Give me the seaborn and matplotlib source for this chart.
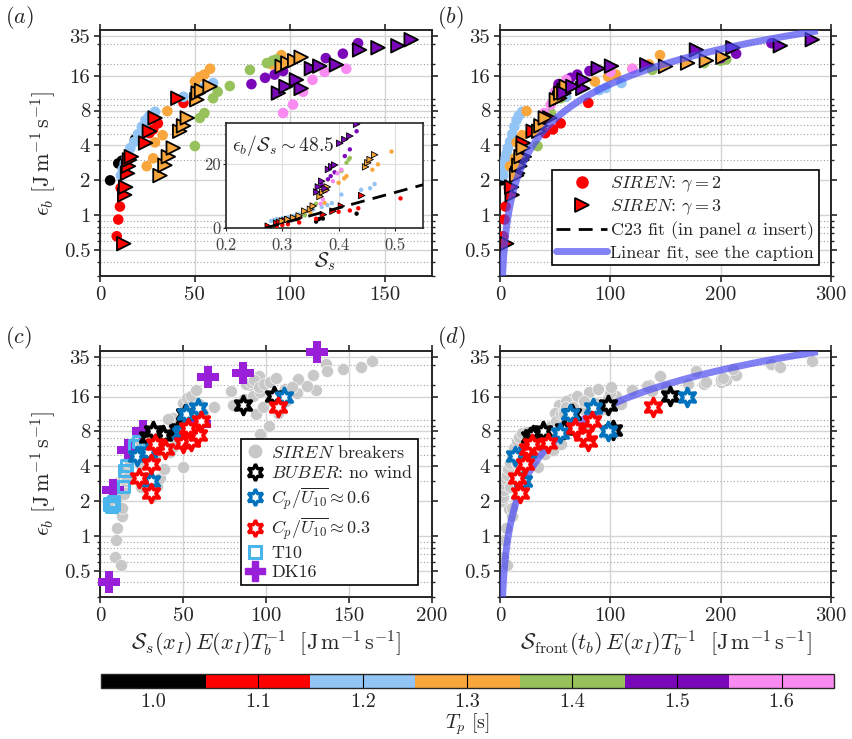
import numpy as np
import pandas as pd
import matplotlib
matplotlib.use('Agg')
import matplotlib.pyplot as plt
import matplotlib.ticker as mticker
from matplotlib.lines import Line2D
from matplotlib.colors import ListedColormap, BoundaryNorm
import seaborn as sns

# Peak periods and their colours
tp_levels = ['1.0', '1.1', '1.2', '1.3', '1.4', '1.5', '1.6']
tp_colors = ['#000000', '#ff0000', '#92c5f6', '#f9a63c', '#97c25b', '#7a08b8', '#f98af1']

# SIREN breakers: eps_b, x of panel a, x of panel b, S_s (inset)
# gamma = 2 (circles)
c10_eps = [2.0, 2.8, 2.95, 4.5]
c10_xa = [5.3, 9.6, 11.4, 18.4]
c10_xb = [1.5, 7.5, 9, 14]
c10_ss = [0.36, 0.365, 0.372, 0.432]

c11_eps = [0.66, 0.92, 1.19, 1.72, 2.9, 5.1, 5.5, 6.2, 9.3]
c11_xa = [8.8, 9.6, 10.5, 10.9, 14, 26, 28, 30.5, 44]
c11_xb = [3, 4, 5, 8, 15, 41, 48, 55, 80]
c11_ss = [0.29, 0.30, 0.31, 0.33, 0.36, 0.40, 0.42, 0.435, 0.51]

c12_eps = [2.2, 2.5, 2.8, 3.1, 3.4, 3.8, 4.3, 5.0, 5.8, 6.6, 7.2, 7.8, 10.5, 12, 12.5, 13.8]
c12_xa = [11, 12, 13, 14, 15, 16, 18, 20, 22, 24, 26, 29, 44, 50, 53, 59.6]
c12_xb = [2.8, 3.5, 4, 5, 6, 7, 9, 11, 13, 15, 17, 20, 60, 90, 96, 110]
c12_ss = [0.28, 0.285, 0.29, 0.30, 0.31, 0.32, 0.33, 0.34, 0.355, 0.37, 0.38, 0.388, 0.405, 0.44, 0.456, 0.464]

c13_eps = [2.65, 3.1, 4.25, 4.9, 7.9, 14.2, 15.6, 16.3, 18.3, 20, 24]
c13_xa = [24.6, 28, 29, 33, 35.5, 50, 52.6, 55, 58, 90.4, 95.6]
c13_xb = [9, 13.5, 15, 20, 24, 86, 98, 105, 120, 135, 145]
c13_ss = [0.31, 0.325, 0.34, 0.35, 0.375, 0.40, 0.41, 0.414, 0.46, 0.47, 0.494]

c14_eps = [3.95, 6.9, 7.6, 10.2, 11.6, 13.0, 17.9, 20.5, 21.5, 22]
c14_xa = [50, 52.6, 55, 59.6, 62, 68.4, 79, 88, 91, 93]
c14_xb = [34, 43, 46, 55, 58, 62, 138, 185, 200, 205]
c14_ss = [0.34, 0.355, 0.36, 0.368, 0.372, 0.376, 0.405, 0.414, 0.418, 0.42]

c15_eps = [13.5, 15.3, 16.3, 17.5, 22.6, 24.7, 30.4]
c15_xa = [79.8, 87, 92, 96.5, 119, 128, 136]
c15_xb = [53, 64, 70, 81, 200, 214, 246]
c15_ss = [0.37, 0.381, 0.386, 0.393, 0.411, 0.42, 0.432]

c16_eps = [7.6, 9.0, 11.6, 14.7, 17.2, 18.3]
c16_xa = [96.5, 101.7, 107, 112, 118.4, 129.8]
c16_xb = [40, 46, 50, 60, 100, 120]
c16_ss = [0.368, 0.372, 0.378, 0.39, 0.398, 0.405]

# gamma = 3 (triangles)
t11_eps = [0.57, 1.5, 1.75, 2.3, 2.65, 3.0, 3.2, 4.2, 5.3, 6.9, 10.2]
t11_xa = [12.5, 13, 13.5, 14.5, 15, 15.5, 16.5, 24, 26, 29, 41]
t11_xb = [6, 11, 10.5, 16, 18, 20, 22, 21, 30, 45, 54]
t11_ss = [0.275, 0.29, 0.295, 0.305, 0.31, 0.32, 0.33, 0.373, 0.39, 0.405, 0.441]

t13_eps = [2.2, 2.7, 3.2, 3.8, 5.3, 5.9, 6.9, 9.9, 11.3, 11.9, 12.9, 19.2, 20.5, 21.5, 23]
t13_xa = [31.6, 34.2, 36, 38.6, 42, 44, 46, 51, 51.7, 53.5, 58, 96, 99, 102.6, 106]
t13_xb = [15, 17, 19, 21, 35, 37, 41, 51, 55, 58, 60, 150, 170, 187, 202]
t13_ss = [0.30, 0.31, 0.32, 0.33, 0.34, 0.35, 0.355, 0.367, 0.372, 0.378, 0.38, 0.448, 0.452, 0.456, 0.464]

t15_eps = [11.3, 12.4, 12.9, 14.7, 18.4, 19.3, 19.8, 26.6, 27.8, 28.9, 32.6]
t15_xa = [94, 106, 98, 103.5, 111.4, 115.8, 124.6, 136.8, 146.5, 157, 164]
t15_xb = [58, 75, 66, 76, 89, 101, 133, 178, 211, 254, 283]
t15_ss = [0.361, 0.376, 0.364, 0.37, 0.382, 0.388, 0.393, 0.402, 0.411, 0.42, 0.432]

# BUBER stars: eps_b, x of panel c, x of panel d
nowind_eps = [7.1, 7.4, 8.1, 8.2, 8.4, 11.2, 13.6, 16.3]
nowind_xc = [29, 38, 32, 47, 48, 51, 86, 105]
nowind_xd = [27, 30, 39, 102, 58, 65, 98, 154]

w06_eps = [3.0, 4.9, 5.3, 7.7, 8.1, 11.2, 12.8, 16]
w06_xc = [31, 22, 29, 49, 50, 52, 59, 111]
w06_xd = [21, 14, 24, 54, 98, 63, 84, 169]

w03_eps = [2.35, 3.2, 4.2, 5.6, 6.2, 6.3, 6.6, 7.5, 8.5, 9.9, 13]
w03_xc = [31, 23.6, 31, 39, 33, 50, 55, 59, 53, 61, 107]
w03_xd = [18, 15, 22.6, 25, 29, 43.7, 80, 75, 68, 83, 138.5]

# other data sets
t10_x = [6, 7, 8, 8.3, 14, 15, 16, 21, 23]
t10_eps = [1.9, 1.8, 1.9, 2.0, 2.7, 3.7, 4.1, 6.0, 6.6]
dk16_x = [5.5, 8, 17, 26, 60, 65, 86, 130.5]
dk16_eps = [0.4, 2.5, 5.5, 8.1, 9.3, 23.5, 25.5, 39]

# fits
c23_slope, c23_x0 = 48.5, 0.27
lin_slope = 0.135

yticks = [0.5, 1, 2, 4, 8, 16, 35]
yminor = [0.3, 0.4, 0.6, 0.7, 0.8, 0.9, 3, 5, 6, 7, 9, 10, 20, 30]


def group(tp, gamma, eps, xa, xb, ss):
    return pd.DataFrame({'tp': tp, 'gamma': gamma, 'eps': eps, 'xa': xa, 'xb': xb, 'ss': ss})


circ = pd.concat([
    group('1.0', 2, c10_eps, c10_xa, c10_xb, c10_ss),
    group('1.1', 2, c11_eps, c11_xa, c11_xb, c11_ss),
    group('1.2', 2, c12_eps, c12_xa, c12_xb, c12_ss),
    group('1.3', 2, c13_eps, c13_xa, c13_xb, c13_ss),
    group('1.4', 2, c14_eps, c14_xa, c14_xb, c14_ss),
    group('1.5', 2, c15_eps, c15_xa, c15_xb, c15_ss),
    group('1.6', 2, c16_eps, c16_xa, c16_xb, c16_ss),
])
tri = pd.concat([
    group('1.1', 3, t11_eps, t11_xa, t11_xb, t11_ss),
    group('1.3', 3, t13_eps, t13_xa, t13_xb, t13_ss),
    group('1.5', 3, t15_eps, t15_xa, t15_xb, t15_ss),
])
siren = pd.concat([circ, tri])
pal = dict(zip(tp_levels, tp_colors))

sns.set_style('ticks')
plt.rcParams['font.family'] = 'serif'
plt.rcParams['font.serif'] = ['cmr10', 'DejaVu Serif']
plt.rcParams['mathtext.fontset'] = 'cm'
plt.rcParams['axes.unicode_minus'] = False
plt.rcParams['axes.formatter.use_mathtext'] = True

fig = plt.figure(figsize=(8.52, 7.39), dpi=100)
axA = fig.add_axes([0.1174, 0.6265, 0.3897, 0.3329])
axB = fig.add_axes([0.5869, 0.6265, 0.3885, 0.3329])
axC = fig.add_axes([0.1174, 0.1922, 0.3897, 0.3329])
axD = fig.add_axes([0.5869, 0.1922, 0.3885, 0.3329])


def style(ax, xmax, xticks):
    ax.set_yscale('log')
    ax.set_ylim(0.3, 39.5)
    ax.set_xlim(0, xmax)
    ax.yaxis.set_major_locator(mticker.FixedLocator(yticks))
    ax.yaxis.set_major_formatter(mticker.FixedFormatter([f'{v:g}' for v in yticks]))
    ax.yaxis.set_minor_locator(mticker.FixedLocator(yminor))
    ax.yaxis.set_minor_formatter(mticker.NullFormatter())
    ax.set_xticks(xticks)
    ax.set_xticklabels([f'{v:g}' for v in xticks])
    ax.grid(which='major', color='#d4d4d4', lw=1.0, ls='-')
    ax.grid(which='minor', axis='y', color='#a0a0a0', lw=0.8, ls=(0, (1, 2)))
    ax.set_axisbelow(True)
    ax.tick_params(which='major', direction='out', top=True, right=True,
                   labelsize=15, width=1.2, length=4, pad=3)
    ax.tick_params(which='minor', direction='out', right=True, width=1.0, length=2.5)
    for s in ax.spines.values():
        s.set_linewidth(1.4)
    ax.set_xlabel('')
    ax.set_ylabel('')


ylab = r'$\epsilon_b\ [\mathrm{J\,m^{-1}\,s^{-1}}]$'

# ---- panel a
sns.scatterplot(data=circ, x='xa', y='eps', hue='tp', palette=pal, s=58,
                linewidth=0, legend=False, ax=axA, zorder=3)
sns.scatterplot(data=tri, x='xa', y='eps', hue='tp', palette=pal, marker='>', s=95,
                edgecolor='k', linewidth=1.3, legend=False, ax=axA, zorder=4)
style(axA, 175, [0, 50, 100, 150])
axA.set_ylabel(ylab, fontsize=16, labelpad=4)

# inset
axI = fig.add_axes([0.2653, 0.6915, 0.2312, 0.1421])
sns.scatterplot(data=circ, x='ss', y='eps', hue='tp', palette=pal, s=10,
                linewidth=0, legend=False, ax=axI, zorder=3)
sns.scatterplot(data=tri, x='ss', y='eps', hue='tp', palette=pal, marker='>', s=22,
                edgecolor='k', linewidth=0.6, legend=False, ax=axI, zorder=4)
xs = np.array([c23_x0, 0.55])
axI.plot(xs, c23_slope * (xs - c23_x0), color='k', ls=(0, (5, 3)), lw=2, zorder=5)
axI.set_xlim(0.2, 0.55)
axI.set_ylim(0, 33)
axI.set_xticks([0.2, 0.3, 0.4, 0.5])
axI.set_xticklabels(['0.2', '0.3', '0.4', '0.5'])
axI.set_yticks([0, 20])
axI.set_yticklabels(['0', '20'])
axI.grid(color='#dddddd', lw=0.8)
axI.tick_params(axis='x', labelsize=12, labelcolor='#444444', length=2, pad=5)
axI.tick_params(axis='y', labelsize=12, labelcolor='#444444', length=2, pad=2)
for s in axI.spines.values():
    s.set_linewidth(1.2)
axI.set_ylabel('')
axI.set_xlabel(r'$\mathcal{S}_s$', fontsize=15, labelpad=-2)
axI.text(0.03, 0.9, r'$\epsilon_b/\mathcal{S}_s\sim 48.5$', transform=axI.transAxes,
         fontsize=14, va='top', ha='left')

# ---- panel b
sns.scatterplot(data=circ, x='xb', y='eps', hue='tp', palette=pal, s=58,
                linewidth=0, legend=False, ax=axB, zorder=3)
sns.scatterplot(data=tri, x='xb', y='eps', hue='tp', palette=pal, marker='>', s=95,
                edgecolor='k', linewidth=1.3, legend=False, ax=axB, zorder=4)
xl = np.linspace(2.2, 288, 300)
axB.plot(xl, lin_slope * xl, color=(0.3, 0.3, 0.95), alpha=0.7, lw=5, zorder=5,
         solid_capstyle='butt')
style(axB, 300, [0, 100, 200, 300])
hB = [Line2D([], [], ls='', marker='o', color='#ff0000', markersize=8),
      Line2D([], [], ls='', marker='>', markerfacecolor='#ff0000', markeredgecolor='k',
             markeredgewidth=1.3, markersize=10),
      Line2D([], [], color='k', ls=(0, (5, 3)), lw=2),
      Line2D([], [], color=(0.3, 0.3, 0.95), alpha=0.7, lw=5)]
lB = [r'$\it{SIREN}$: $\gamma=2$', r'$\it{SIREN}$: $\gamma=3$',
      r'C23 fit (in panel $a$ insert)', 'Linear fit, see the caption']
legB = axB.legend(hB, lB, loc='lower right', bbox_to_anchor=(0.963, 0.043),
                  borderaxespad=0, fontsize=13, frameon=True, fancybox=False,
                  edgecolor='k', framealpha=1, handlelength=2.8, labelspacing=0.15,
                  handletextpad=0.2, borderpad=0.25)
legB.get_frame().set_linewidth(1.2)
legB.set_zorder(10)

# ---- panel c
gray = '#c8c8c8'
star = (6, 1, 0)
sns.scatterplot(data=siren, x='xa', y='eps', color=gray, s=75, edgecolor='white',
                linewidth=0.4, legend=False, ax=axC, zorder=2)
sns.scatterplot(x=dk16_x, y=dk16_eps, color='#9a1fd8', marker='P', s=230,
                linewidth=0, ax=axC, zorder=3, clip_on=False)
sns.scatterplot(x=t10_x, y=t10_eps, marker='s', s=65, facecolor='none',
                edgecolor='#4ab5ec', linewidth=2.2, ax=axC, zorder=4)
for xs_, ys_, col in [(nowind_xc, nowind_eps, 'k'), (w06_xc, w06_eps, '#0072bd'),
                      (w03_xc, w03_eps, '#ff0000')]:
    sns.scatterplot(x=xs_, y=ys_, marker=star, s=165, facecolor='white', edgecolor=col,
                    linewidth=2.7, ax=axC, zorder=5)
style(axC, 200, [0, 50, 100, 150, 200])
axC.set_ylabel(ylab, fontsize=16, labelpad=4)
axC.set_xlabel(r'$\mathcal{S}_s(x_I)\,E(x_I)T_b^{-1}\ \ [\mathrm{J\,m^{-1}\,s^{-1}}]$',
               fontsize=16, labelpad=3)
hC = [Line2D([], [], ls='', marker='o', color=gray, markersize=9),
      Line2D([], [], ls='', marker=star, markerfacecolor='white', markeredgecolor='k',
             markeredgewidth=2.4, markersize=12),
      Line2D([], [], ls='', marker=star, markerfacecolor='white', markeredgecolor='#0072bd',
             markeredgewidth=2.4, markersize=12),
      Line2D([], [], ls='', marker=star, markerfacecolor='white', markeredgecolor='#ff0000',
             markeredgewidth=2.4, markersize=12),
      Line2D([], [], ls='', marker='s', markerfacecolor='none', markeredgecolor='#4ab5ec',
             markeredgewidth=2.2, markersize=8),
      Line2D([], [], ls='', marker='P', color='#9a1fd8', markersize=14)]
lC = [r'$\it{SIREN}$ breakers', r'$\it{BUBER}$: no wind',
      r'$C_p/\overline{U_{10}}\approx 0.6$', r'$C_p/\overline{U_{10}}\approx 0.3$',
      'T10', 'DK16']
legC = axC.legend(hC, lC, loc='lower right', bbox_to_anchor=(0.958, 0.049),
                  borderaxespad=0, fontsize=13, frameon=True, fancybox=False,
                  edgecolor='k', framealpha=1, handlelength=1.0, labelspacing=0.2,
                  handletextpad=0.4, borderpad=0.25)
legC.get_frame().set_linewidth(1.2)
legC.set_zorder(10)

# ---- panel d
sns.scatterplot(data=siren, x='xb', y='eps', color=gray, s=75, edgecolor='white',
                linewidth=0.4, legend=False, ax=axD, zorder=2)
axD.plot(xl, lin_slope * xl, color=(0.3, 0.3, 0.95), alpha=0.7, lw=5, zorder=3,
         solid_capstyle='butt')
for xs_, ys_, col in [(nowind_xd, nowind_eps, 'k'), (w06_xd, w06_eps, '#0072bd'),
                      (w03_xd, w03_eps, '#ff0000')]:
    sns.scatterplot(x=xs_, y=ys_, marker=star, s=165, facecolor='white', edgecolor=col,
                    linewidth=2.7, ax=axD, zorder=5)
style(axD, 300, [0, 100, 200, 300])
axD.set_xlabel(r'$\mathcal{S}_{\mathrm{front}}(t_b)\,E(x_I)T_b^{-1}\ \ [\mathrm{J\,m^{-1}\,s^{-1}}]$',
               fontsize=16, labelpad=3)

# panel letters
for lab, x, y in [('a', 0.006, 0.995), ('b', 0.513, 0.995), ('c', 0.006, 0.562), ('d', 0.513, 0.562)]:
    fig.text(x, y, rf'$({lab})$', fontsize=16, va='top', ha='left')

# ---- colorbar
cax = fig.add_axes([0.1185, 0.069, 0.8603, 0.019])
tp_vals = [float(t) for t in tp_levels]
bounds = [v - 0.05 for v in tp_vals] + [tp_vals[-1] + 0.05]
sm = plt.cm.ScalarMappable(cmap=ListedColormap(tp_colors), norm=BoundaryNorm(bounds, len(tp_colors)))
cb = fig.colorbar(sm, cax=cax, orientation='horizontal', ticks=tp_vals)
cb.set_ticklabels(tp_levels)
cb.outline.set_linewidth(1.0)
for v in tp_vals:
    cax.axvline(v, color='k', lw=0.8)
cax.tick_params(axis='x', which='both', length=0, labelsize=14.5, pad=4)
cax.set_xlabel(r'$T_p\ [\mathrm{s}]$', fontsize=14.5, labelpad=0)

fig.savefig('out.png', dpi=100)
